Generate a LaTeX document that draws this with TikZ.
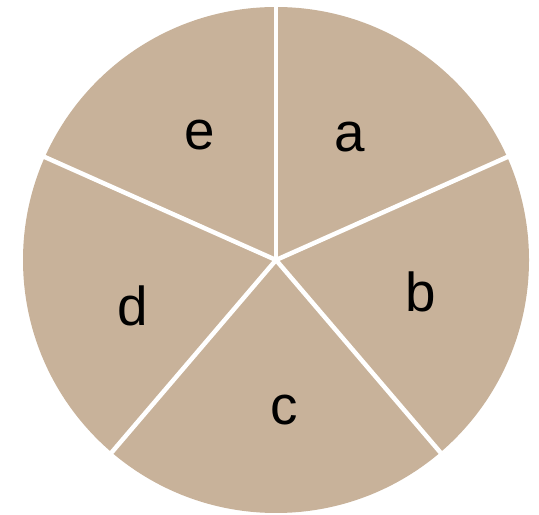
\documentclass[tikz,border=0pt]{standalone}
\usepackage{fontspec}
\setmainfont{Liberation Sans}
\usepackage{tikz}
\usetikzlibrary{calc}
\definecolor{tan}{HTML}{C8B29A}

\begin{document}
\begin{tikzpicture}[
  x=1bp,y=1bp,
  font=\fontsize{55}{60}\selectfont,
  disc/.style={fill=tan,draw=none},
  cut/.style={draw=white,line width=4.5bp},
  lbl/.style={inner sep=0pt,text=black}
]
\useasboundingbox (0,0) rectangle (539,515);
\coordinate (o) at (276,255);
\fill[disc] (o) circle (253);
\foreach \ang in {90,24,-49.5,-130.5,156}
  \draw[cut] (o) -- ++(\ang:256);
\node[lbl] (a) at ($(o)+(74,123)$) {a};
\node[lbl] (b) at ($(o)+(145,-32)$) {b};
\node[lbl] (c) at ($(o)+(8,-150)$) {c};
\node[lbl] (d) at ($(o)+(-143,-46)$) {d};
\node[lbl] (e) at ($(o)+(-76,125)$) {e};
\end{tikzpicture}
\end{document}
